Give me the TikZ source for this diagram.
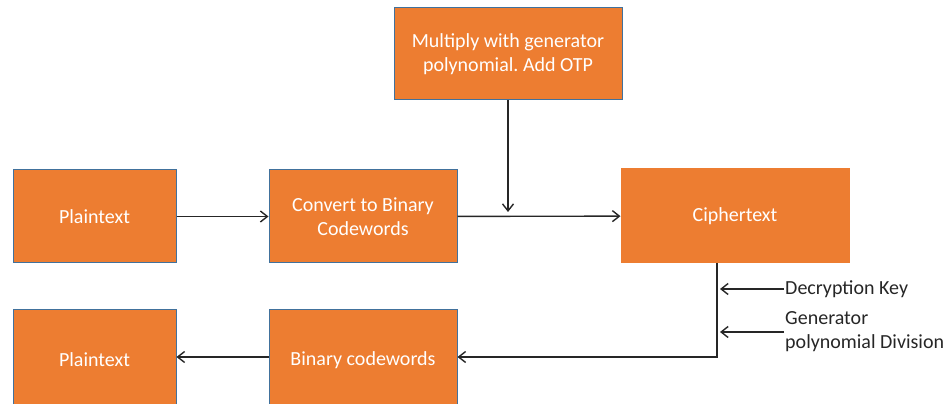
\documentclass[tikz,border=0pt]{standalone}
\usepackage{fontspec}
\setmainfont{Carlito}
\usetikzlibrary{arrows.meta}
\definecolor{boxorange}{HTML}{ED7D31}
\definecolor{boxedge}{HTML}{41719C}
\frenchspacing
\begin{document}
\begin{tikzpicture}[x=1pt, y=1pt,
  font=\fontsize{20}{24}\selectfont,
  block/.style={draw=boxedge, line width=1pt, fill=boxorange, text=white, align=center, inner sep=0pt},
  flow/.style={-{Straight Barb[length=7pt, width=11pt]}, line width=1.4pt, draw=black!85},
  keytext/.style={anchor=west, align=left, inner sep=1pt, text=black!85}]
  \useasboundingbox (0,0) rectangle (950,404);
  % upper row
  \node[block, minimum width=228, minimum height=92] (mult) at (508,350) {Multiply with generator\\ polynomial. Add OTP};
  \node[block, minimum width=163, minimum height=93] (plainA) at (94.5,187.5) {Plaintext};
  \node[block, minimum width=188, minimum height=93] (conv) at (363,187.5) {Convert to Binary\\ Codewords};
  \node[block, draw=boxorange, minimum width=228, minimum height=94] (ciph) at (735,188) {Ciphertext};
  % lower row
  \node[block, minimum width=163, minimum height=100] (plainB) at (94.5,44) {Plaintext};
  \node[block, minimum width=188, minimum height=100] (bin) at (363,44) {Binary codewords};
  \node[keytext] (dk) at (784,115) {Decryption Key};
  \node[keytext] (gp) at (784,72) {Generator\\ polynomial Division};
  \coordinate (join) at (508,192);
  \coordinate (turn) at (717,47);
  \draw[flow] (plainA) -- (conv);
  \draw[flow] (conv) -- (ciph);
  \draw[flow] (mult.south -| join) -- (join);
  \draw[flow] (ciph.south -| turn) -- (turn) -- (bin.east |- turn);
  \draw[flow] (bin.west |- turn) -- (plainB.east |- turn);
  \foreach \k in {dk, gp}
    \draw[flow, shorten >=3pt] (\k.west) -- (\k.west -| turn);
\end{tikzpicture}
\end{document}
